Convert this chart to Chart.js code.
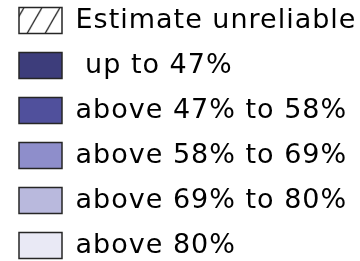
<!DOCTYPE html>
<html>
<head>
<meta charset="utf-8">
<script src="https://cdn.jsdelivr.net/npm/chart.js@4/dist/chart.umd.min.js"></script>
<style>
  body { margin: 0; background: #fff; }
  #wrap { width: 360px; height: 261px; }
</style>
</head>
<body>
<div id="wrap"><canvas id="chart"></canvas></div>
<script>
'use strict';

// ***** DATA *****
let bandLabels = ['Estimate unreliable', ' up to 47%', 'above 47% to 58%', 'above 58% to 69%', 'above 69% to 80%', 'above 80%'];
let bandColors = ['hatch', '#3d3d7b', '#50509c', '#8e8ecb', '#b9b9dd', '#e9e9f5'];
let categories = [];

// ***** HATCH PATTERN FOR UNRELIABLE ESTIMATES *****
function makeHatch() {
  let tile = document.createElement('canvas');
  tile.width = 18;
  tile.height = 26;
  let c = tile.getContext('2d');
  c.fillStyle = '#fff';
  c.fillRect(0, 0, 18, 26);
  c.strokeStyle = '#222';
  c.lineWidth = 1.3;
  c.beginPath();
  // same line repeated so it wraps cleanly at the tile edges
  for (let off = -18; off <= 18; off += 18) {
    c.moveTo(3 + off, 26);
    c.lineTo(18 + off, 0);
  }
  c.stroke();
  let pattern = c.createPattern(tile, 'repeat');
  // line up the hatch with the first legend box
  pattern.setTransform(new DOMMatrix().translate(24, 7.5));
  return pattern;
}

let hatch = makeHatch();

let datasets = bandLabels.map((label, i) => ({
  label: label,
  data: [],
  backgroundColor: bandColors[i] === 'hatch' ? hatch : bandColors[i],
  borderColor: '#262626',
  borderWidth: 1.5
}));

// small tweak so the glyphs spread like the original
let spacingPlugin = {
  id: 'spacing',
  beforeDraw(chart) {
    chart.ctx.letterSpacing = '1px';
  }
};

new Chart(document.getElementById('chart'), {
  type: 'bar',
  data: { labels: categories, datasets: datasets },
  plugins: [spacingPlugin],
  options: {
    responsive: true,
    maintainAspectRatio: false,
    animation: false,
    layout: { padding: { top: -11, left: 1, right: 0, bottom: 0 } },
    scales: { x: { display: false }, y: { display: false } },
    plugins: {
      tooltip: { enabled: false },
      legend: {
        position: 'top',
        align: 'start',
        maxHeight: 400,
        labels: {
          boxWidth: 43,
          boxHeight: 26,
          padding: 18,
          color: '#000',
          font: { family: 'DejaVu Sans', size: 27 }
        }
      }
    }
  }
});
</script>
</body>
</html>
